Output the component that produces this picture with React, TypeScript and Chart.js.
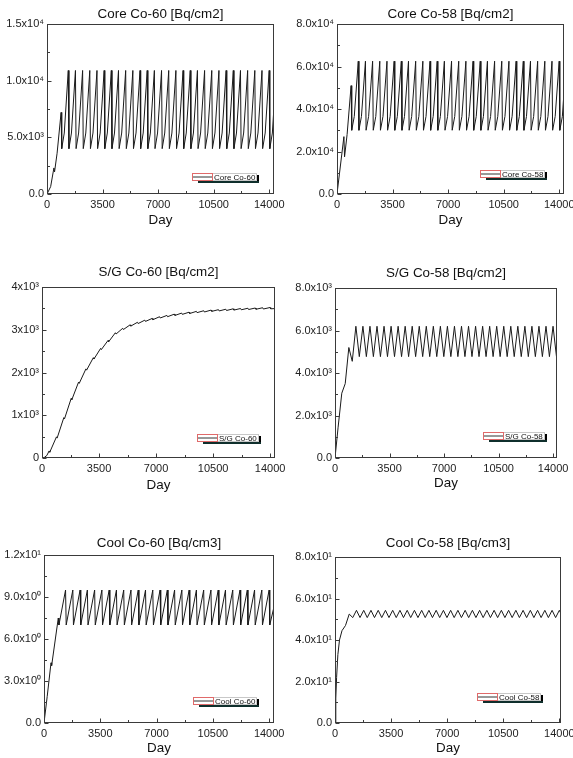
import React, { useEffect, useRef } from 'react';
import { Chart, registerables } from 'chart.js';

Chart.register(...registerables);
Chart.defaults.font.family = "'Liberation Sans', Arial, sans-serif";

// ---------- shared time axis ----------
const xTicks = [0, 3500, 7000, 10500, 14000];
const xTickLabels = ['0', '3500', '7000', '10500', '14000'];

// end-of-cycle (peak) days, one per fuel cycle
const cycleDays = [
  436, 888, 1340, 1792, 2244, 2696, 3148, 3600, 4052, 4504,
  4956, 5408, 5860, 6312, 6764, 7216, 7668, 8120, 8572, 9024,
  9476, 9928, 10380, 10832, 11284, 11736, 12188, 12640, 13092, 13544,
  13996,
];
// days of the minimum after a sharp drop
const fastDropDays = [
  476, 928, 1380, 1832, 2284, 2736, 3188, 3640, 4092, 4544,
  4996, 5448, 5900, 6352, 6804, 7256, 7708, 8160, 8612, 9064,
  9516, 9968, 10420, 10872, 11324, 11776, 12228, 12680, 13132, 13584,
  14036,
];
// days where the slow start of a build-up turns into the steep part
const kneeDays = [
  636, 1088, 1540, 1992, 2444, 2896, 3348, 3800, 4252, 4704,
  5156, 5608, 6060, 6512, 6964, 7416, 7868, 8320, 8772, 9224,
  9676, 10128, 10580, 11032, 11484, 11936, 12388, 12840, 13292, 13744,
  14196,
];
// days of the minimum after a gradual decline
const slowDropDays = [
  656, 1108, 1560, 2012, 2464, 2916, 3368, 3820, 4272, 4724,
  5176, 5628, 6080, 6532, 6984, 7436, 7888, 8340, 8792, 9244,
  9696, 10148, 10600, 11052, 11504, 11956, 12408, 12860, 13312, 13764,
  14216,
];
const endDay = 14300;

// ---------- Core Co-60 ----------
const coreCo60StartDays = [0, 230];
const coreCo60StartValues = [0, 650];
const coreCo60Peaks = [
  2300, 7200, 10900, 10900, 10900, 10900, 10900, 10900, 10900, 10900,
  10900, 10900, 10900, 10900, 10900, 10900, 10900, 10900, 10900, 10900,
  10900, 10900, 10900, 10900, 10900, 10900, 10900, 10900, 10900, 10900,
  10900,
];
const coreCo60Troughs = [
  1950, 4000, 4000, 4000, 4000, 4000, 4000, 4000, 4000, 4000,
  4000, 4000, 4000, 4000, 4000, 4000, 4000, 4000, 4000, 4000,
  4000, 4000, 4000, 4000, 4000, 4000, 4000, 4000, 4000, 4000,
  4000,
];
const coreCo60Knees = [
  3600, 5380, 5380, 5380, 5380, 5380, 5380, 5380, 5380, 5380,
  5380, 5380, 5380, 5380, 5380, 5380, 5380, 5380, 5380, 5380,
  5380, 5380, 5380, 5380, 5380, 5380, 5380, 5380, 5380, 5380,
  5380,
];
const coreCo60End = 7700;

// ---------- Core Co-58 ----------
const coreCo58StartDays = [0];
const coreCo58StartValues = [0];
const coreCo58Peaks = [
  27000, 51000, 62500, 62500, 62500, 62500, 62500, 62500, 62500, 62500,
  62500, 62500, 62500, 62500, 62500, 62500, 62500, 62500, 62500, 62500,
  62500, 62500, 62500, 62500, 62500, 62500, 62500, 62500, 62500, 62500,
  62500,
];
const coreCo58Troughs = [
  17500, 30000, 30000, 30000, 30000, 30000, 30000, 30000, 30000, 30000,
  30000, 30000, 30000, 30000, 30000, 30000, 30000, 30000, 30000, 30000,
  30000, 30000, 30000, 30000, 30000, 30000, 30000, 30000, 30000, 30000,
  30000,
];
const coreCo58Knees = [
  28000, 36500, 36500, 36500, 36500, 36500, 36500, 36500, 36500, 36500,
  36500, 36500, 36500, 36500, 36500, 36500, 36500, 36500, 36500, 36500,
  36500, 36500, 36500, 36500, 36500, 36500, 36500, 36500, 36500, 36500,
  36500,
];
const coreCo58End = 48000;

// ---------- S/G Co-60 ----------
const sgCo60StartDays = [0, 150, 300];
const sgCo60StartValues = [0, 15, 60];
const sgCo60Peaks = [
  165, 495, 945, 1395, 1775, 2085, 2345, 2565, 2750, 2930,
  3035, 3115, 3175, 3225, 3265, 3305, 3335, 3365, 3390, 3410,
  3430, 3445, 3460, 3470, 3480, 3490, 3497, 3503, 3509, 3515,
  3520,
];
const sgCo60Troughs = [
  135, 465, 915, 1365, 1745, 2055, 2315, 2535, 2720, 2900,
  3005, 3085, 3145, 3195, 3235, 3275, 3305, 3335, 3360, 3380,
  3400, 3415, 3430, 3440, 3450, 3460, 3467, 3473, 3479, 3485,
  3490,
];
const sgCo60End = 3495;

// ---------- S/G Co-58 ----------
const sgCo58StartDays = [0, 200];
const sgCo58StartValues = [0, 1450];
const sgCo58Peaks = [
  3050, 5200, 6200, 6200, 6200, 6200, 6200, 6200, 6200, 6200,
  6200, 6200, 6200, 6200, 6200, 6200, 6200, 6200, 6200, 6200,
  6200, 6200, 6200, 6200, 6200, 6200, 6200, 6200, 6200, 6200,
  6200,
];
const sgCo58Troughs = [
  3500, 4550, 4770, 4770, 4770, 4770, 4770, 4770, 4770, 4770,
  4770, 4770, 4770, 4770, 4770, 4770, 4770, 4770, 4770, 4770,
  4770, 4770, 4770, 4770, 4770, 4770, 4770, 4770, 4770, 4770,
  4770,
];
const sgCo58End = 5000;

// ---------- Cool Co-60 ----------
const coolCo60StartDays = [0, 200];
const coolCo60StartValues = [0, 1.9];
const coolCo60Peaks = [
  4.3, 7.5, 9.5, 9.5, 9.5, 9.5, 9.5, 9.5, 9.5, 9.5,
  9.5, 9.5, 9.5, 9.5, 9.5, 9.5, 9.5, 9.5, 9.5, 9.5,
  9.5, 9.5, 9.5, 9.5, 9.5, 9.5, 9.5, 9.5, 9.5, 9.5,
  9.5,
];
const coolCo60Troughs = [
  4.1, 7.0, 7.0, 7.0, 7.0, 7.0, 7.0, 7.0, 7.0, 7.0,
  7.0, 7.0, 7.0, 7.0, 7.0, 7.0, 7.0, 7.0, 7.0, 7.0,
  7.0, 7.0, 7.0, 7.0, 7.0, 7.0, 7.0, 7.0, 7.0, 7.0,
  7.0,
];
const coolCo60End = 8.3;

// ---------- Cool Co-58 ----------
const coolCo58StartDays = [0, 50, 100, 180, 280];
const coolCo58StartValues = [0, 12, 22, 33, 40];
const coolCo58Peaks = [
  44.5, 52.5, 54.3, 54.3, 54.3, 54.3, 54.3, 54.3, 54.3, 54.3,
  54.3, 54.3, 54.3, 54.3, 54.3, 54.3, 54.3, 54.3, 54.3, 54.3,
  54.3, 54.3, 54.3, 54.3, 54.3, 54.3, 54.3, 54.3, 54.3, 54.3,
  54.3,
];
const coolCo58Troughs = [
  47, 50.8, 50.8, 50.8, 50.8, 50.8, 50.8, 50.8, 50.8, 50.8,
  50.8, 50.8, 50.8, 50.8, 50.8, 50.8, 50.8, 50.8, 50.8, 50.8,
  50.8, 50.8, 50.8, 50.8, 50.8, 50.8, 50.8, 50.8, 50.8, 50.8,
  50.8,
];
const coolCo58End = 51.5;

// ---------- y axes ----------
const coreCo60YTicks = [0, 5000, 10000, 15000];
const coreCo60YLabels = ['0.0', '5.0x10³', '1.0x10⁴', '1.5x10⁴'];
const coreCo58YTicks = [0, 20000, 40000, 60000, 80000];
const coreCo58YLabels = ['0.0', '2.0x10⁴', '4.0x10⁴', '6.0x10⁴', '8.0x10⁴'];
const sgCo60YTicks = [0, 1000, 2000, 3000, 4000];
const sgCo60YLabels = ['0', '1x10³', '2x10³', '3x10³', '4x10³'];
const sgCo58YTicks = [0, 2000, 4000, 6000, 8000];
const sgCo58YLabels = ['0.0', '2.0x10³', '4.0x10³', '6.0x10³', '8.0x10³'];
const coolCo60YTicks = [0, 3, 6, 9, 12];
const coolCo60YLabels = ['0.0', '3.0x10⁰', '6.0x10⁰', '9.0x10⁰', '1.2x10¹'];
const coolCo58YTicks = [0, 20, 40, 60, 80];
const coolCo58YLabels = ['0.0', '2.0x10¹', '4.0x10¹', '6.0x10¹', '8.0x10¹'];

type Pt = { x: number; y: number };
type Phase = [number[], number[]];

function buildPoints(
  startDays: number[], startValues: number[],
  phases: Phase[],
  lastDay: number, lastValue: number
): Pt[] {
  const pts: Pt[] = [];
  startDays.forEach((d, i) => pts.push({ x: d, y: startValues[i] }));
  cycleDays.forEach((_d, i) => {
    phases.forEach(([days, vals]) => pts.push({ x: days[i], y: vals[i] }));
  });
  pts.push({ x: lastDay, y: lastValue });
  return pts;
}

type Panel = {
  title: string; label: string; pts: Pt[];
  yTicks: number[]; yLabels: string[]; xMax: number;
  l: number; r: number; t: number; b: number; titleY: number; dayY: number;
  legR: number; legB: number;
};

const panels: Panel[] = [
  {
    title: 'Core Co-60 [Bq/cm2]', label: 'Core Co-60',
    pts: buildPoints(coreCo60StartDays, coreCo60StartValues,
      [[cycleDays, coreCo60Peaks], [fastDropDays, coreCo60Troughs], [kneeDays, coreCo60Knees]],
      endDay, coreCo60End),
    yTicks: coreCo60YTicks, yLabels: coreCo60YLabels, xMax: 14300,
    l: 47, r: 274, t: 24, b: 194, titleY: 14, dayY: 220, legR: 82, legB: 21,
  },
  {
    title: 'Core Co-58 [Bq/cm2]', label: 'Core Co-58',
    pts: buildPoints(coreCo58StartDays, coreCo58StartValues,
      [[cycleDays, coreCo58Peaks], [fastDropDays, coreCo58Troughs], [kneeDays, coreCo58Knees]],
      endDay, coreCo58End),
    yTicks: coreCo58YTicks, yLabels: coreCo58YLabels, xMax: 14300,
    l: 337, r: 564, t: 24, b: 194, titleY: 14, dayY: 220, legR: 84, legB: 24,
  },
  {
    title: 'S/G Co-60 [Bq/cm2]', label: 'S/G Co-60',
    pts: buildPoints(sgCo60StartDays, sgCo60StartValues,
      [[cycleDays, sgCo60Peaks], [fastDropDays, sgCo60Troughs]],
      endDay, sgCo60End),
    yTicks: sgCo60YTicks, yLabels: sgCo60YLabels, xMax: 14300,
    l: 42, r: 275, t: 287, b: 458, titleY: 272, dayY: 485, legR: 78, legB: 24,
  },
  {
    title: 'S/G Co-58 [Bq/cm2]', label: 'S/G Co-58',
    pts: buildPoints(sgCo58StartDays, sgCo58StartValues,
      [[cycleDays, sgCo58Peaks], [slowDropDays, sgCo58Troughs]],
      endDay, sgCo58End),
    yTicks: sgCo58YTicks, yLabels: sgCo58YLabels, xMax: 14250,
    l: 335, r: 557, t: 288, b: 458, titleY: 273, dayY: 483, legR: 74, legB: 26,
  },
  {
    title: 'Cool Co-60 [Bq/cm3]', label: 'Cool Co-60',
    pts: buildPoints(coolCo60StartDays, coolCo60StartValues,
      [[cycleDays, coolCo60Peaks], [fastDropDays, coolCo60Troughs]],
      endDay, coolCo60End),
    yTicks: coolCo60YTicks, yLabels: coolCo60YLabels, xMax: 14300,
    l: 44, r: 274, t: 555, b: 723, titleY: 543, dayY: 748, legR: 81, legB: 26,
  },
  {
    title: 'Cool Co-58 [Bq/cm3]', label: 'Cool Co-58',
    pts: buildPoints(coolCo58StartDays, coolCo58StartValues,
      [[cycleDays, coolCo58Peaks], [slowDropDays, coolCo58Troughs]],
      endDay, coolCo58End),
    yTicks: coolCo58YTicks, yLabels: coolCo58YLabels, xMax: 14100,
    l: 335, r: 561, t: 557, b: 723, titleY: 543, dayY: 748, legR: 84, legB: 30,
  },
];

const framePlugin = {
  id: 'frameTicks',
  afterDraw(chart: any) {
    const { ctx, chartArea: a, scales } = chart;
    const L = Math.round(a.left) + 0.5, R = Math.round(a.right) - 0.5;
    const T = Math.round(a.top) + 0.5, B = Math.round(a.bottom) - 0.5;
    ctx.save();
    ctx.strokeStyle = '#3a3a3a';
    ctx.lineWidth = 1;
    ctx.strokeRect(L, T, R - L, B - T);
    ctx.beginPath();
    const xs = scales.x, ys = scales.y;
    const xv = xs.ticks.map((t: any) => t.value);
    xv.forEach((v: number, i: number) => {
      const px = Math.round(xs.getPixelForValue(v)) + 0.5;
      ctx.moveTo(px, B); ctx.lineTo(px, B - 4);
      if (i < xv.length - 1) {
        const mx = Math.round(xs.getPixelForValue((v + xv[i + 1]) / 2)) + 0.5;
        ctx.moveTo(mx, B); ctx.lineTo(mx, B - 2.5);
      }
    });
    const yv = ys.ticks.map((t: any) => t.value);
    yv.forEach((v: number, i: number) => {
      const py = Math.round(ys.getPixelForValue(v)) + 0.5;
      ctx.moveTo(L, py); ctx.lineTo(L + 4, py);
      if (i < yv.length - 1) {
        const my = Math.round(ys.getPixelForValue((v + yv[i + 1]) / 2)) + 0.5;
        ctx.moveTo(L, my); ctx.lineTo(L + 2.5, my);
      }
    });
    ctx.stroke();
    ctx.restore();
  },
};

const boxLegendPlugin = {
  id: 'boxLegend',
  afterDraw(chart: any, _args: any, opts: any) {
    const { ctx, chartArea: a } = chart;
    const label = chart.data.datasets[0].label as string;
    ctx.save();
    ctx.font = "8px 'Liberation Sans', Arial, sans-serif";
    const tw = ctx.measureText(label).width;
    const x = Math.round(a.right - opts.offR);
    const y = Math.round(a.bottom - opts.offB);
    const h = 8;
    const w = Math.round(21 + tw + 3);
    // shadow
    ctx.fillStyle = '#000';
    ctx.fillRect(x + w, y + 2, 2, h);
    ctx.fillStyle = '#0f2f2c';
    ctx.fillRect(x + 6, y + h, w - 4, 2);
    // box
    ctx.fillStyle = '#fff';
    ctx.fillRect(x, y, w, h);
    ctx.strokeStyle = '#c8c8c8';
    ctx.lineWidth = 1;
    ctx.strokeRect(x + 0.5, y + 0.5, w - 1, h - 1);
    ctx.strokeStyle = '#e06a6a';
    ctx.strokeRect(x + 0.5, y + 0.5, 20, h - 1);
    ctx.strokeStyle = '#333';
    ctx.beginPath();
    ctx.moveTo(x + 1, y + h / 2);
    ctx.lineTo(x + 20, y + h / 2);
    ctx.stroke();
    ctx.fillStyle = '#111';
    ctx.textBaseline = 'middle';
    ctx.textAlign = 'left';
    ctx.fillText(label, x + 22, y + h / 2 + 0.5);
    ctx.restore();
  },
};

const AXW = 46;

function ChartPanel({ p }: { p: Panel }) {
  const ref = useRef<HTMLCanvasElement | null>(null);
  const cl = p.l - AXW;
  const ct = p.titleY - 10;
  const cw = AXW + (p.r - p.l) + AXW;
  const ch = p.dayY + 10 - ct;

  useEffect(() => {
    const canvas = ref.current!;
    const titleSize = 13.4;
    const titleLine = titleSize * 1.2;
    const chart = new Chart(canvas, {
      type: 'line',
      data: {
        datasets: [
          {
            label: p.label,
            data: p.pts,
            borderColor: '#1a1a1a',
            borderWidth: 1,
            pointRadius: 0,
            fill: false,
            tension: 0,
          },
        ],
      },
      options: {
        responsive: false,
        animation: false,
        devicePixelRatio: 1,
        layout: { padding: 0 },
        plugins: {
          legend: { display: false },
          tooltip: { enabled: false },
          title: {
            display: true,
            text: p.title,
            color: '#111',
            font: { size: titleSize, weight: 'normal' },
            padding: { top: 10 - titleLine / 2, bottom: p.t - ct - (10 - titleLine / 2) - titleLine },
          },
          boxLegend: { offR: p.legR, offB: p.legB },
        } as any,
        scales: {
          x: {
            type: 'linear',
            min: 0,
            max: p.xMax,
            afterBuildTicks: (s: any) => {
              s.ticks = xTicks.map((v) => ({ value: v }));
            },
            afterFit: (s: any) => {
              s.height = p.dayY + 10 - p.b;
            },
            ticks: {
              callback: (v: any) => xTickLabels[xTicks.indexOf(Number(v))],
              font: { size: 11 },
              color: '#222',
              padding: 4,
              maxRotation: 0,
              autoSkip: false,
            },
            grid: { display: false, drawTicks: false },
            border: { display: false },
            title: {
              display: true,
              text: 'Day',
              color: '#111',
              font: { size: titleSize },
              padding: { top: 0, bottom: 10 - titleLine / 2 },
            },
          },
          y: {
            type: 'linear',
            min: p.yTicks[0],
            max: p.yTicks[p.yTicks.length - 1],
            afterBuildTicks: (s: any) => {
              s.ticks = p.yTicks.map((v) => ({ value: v }));
            },
            afterFit: (s: any) => {
              s.width = AXW;
            },
            ticks: {
              callback: (v: any) => p.yLabels[p.yTicks.indexOf(Number(v))],
              font: { size: 11 },
              color: '#222',
              padding: 3,
              autoSkip: false,
            },
            grid: { display: false, drawTicks: false },
            border: { display: false },
          },
          yr: {
            type: 'linear',
            position: 'right',
            display: true,
            afterFit: (s: any) => {
              s.width = AXW;
            },
            ticks: { display: false },
            grid: { display: false, drawTicks: false },
            border: { display: false },
          },
        } as any,
      },
      plugins: [framePlugin, boxLegendPlugin],
    } as any);
    return () => chart.destroy();
  }, []);

  return (
    <canvas
      ref={ref}
      width={cw}
      height={ch}
      style={{ position: 'absolute', left: cl, top: ct, width: cw, height: ch }}
    />
  );
}

export default function App() {
  return (
    <div
      style={{
        position: 'absolute',
        left: 0,
        top: 0,
        width: 573,
        height: 758,
        overflow: 'hidden',
        background: '#fff',
      }}
    >
      {panels.map((p, i) => (
        <ChartPanel key={i} p={p} />
      ))}
    </div>
  );
}
